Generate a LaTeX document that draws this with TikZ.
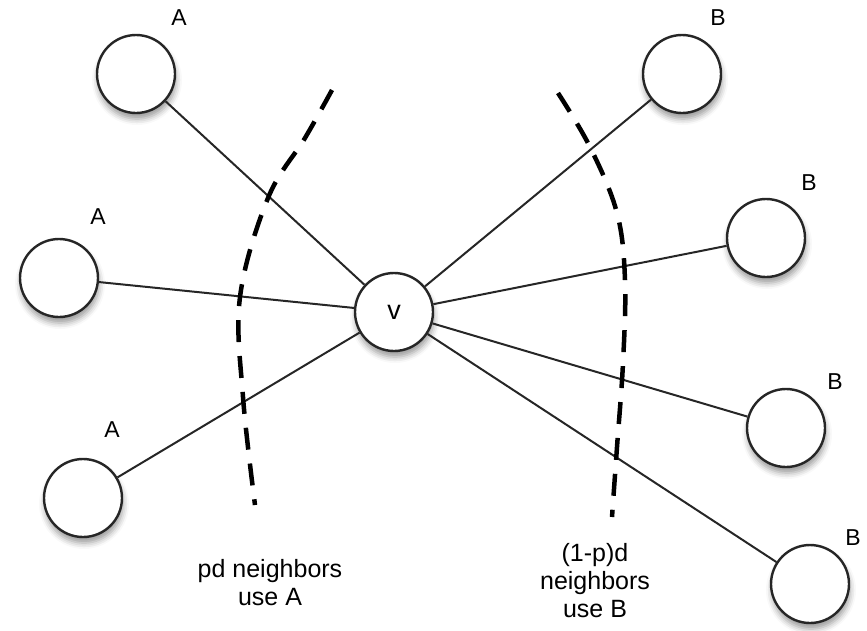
\documentclass[tikz,border=0pt]{standalone}
\usepackage{fontspec}
\setmainfont{Liberation Sans}
\usetikzlibrary{shadows.blur}
\begin{document}
\begin{tikzpicture}[x=1pt,y=-1pt,
  vert/.style={circle,draw=black!85,line width=2.4pt,fill=white,minimum size=78pt,inner sep=0pt,
    blur shadow={shadow xshift=1pt,shadow yshift=-6pt,shadow blur radius=6pt,shadow opacity=40}},
  lbl/.style={font=\fontsize{23}{28}\selectfont},
  vlbl/.style={font=\fontsize{27}{30}\selectfont},
  txt/.style={font=\fontsize{25}{28}\selectfont,align=center},
  edge/.style={line width=2pt,black!85},
  divider/.style={line width=4.5pt,dash pattern=on 22pt off 14pt}]
\useasboundingbox (0,0) rectangle (867,630);
% nodes
\node[vert] (a1) at (136,74) {};
\node[vert] (a2) at (59,278) {};
\node[vert] (a3) at (83,498) {};
\node[vert] (b1) at (682,74) {};
\node[vert] (b2) at (766,238) {};
\node[vert] (b3) at (786,428) {};
\node[vert] (b4) at (810,584) {};
\node[vert,vlbl] (v) at (394,312) {v};
% edges
\foreach \n in {a1,a2,a3,b1,b2,b3,b4}
  \draw[edge] (v) -- (\n);
% labels
\node[lbl] (la1) at (179,18) {A};
\node[lbl] (la2) at (98,217) {A};
\node[lbl] (la3) at (112,430) {A};
\node[lbl] (lb1) at (718,18) {B};
\node[lbl] (lb2) at (809,183) {B};
\node[lbl] (lb3) at (835,382) {B};
\node[lbl] (lb4) at (853,538) {B};
% dividers
\draw[divider] plot[smooth,tension=0.6] coordinates {(332,90) (305,138) (268,198) (240,297) (243,397) (255,505)};
\draw[divider] plot[smooth,tension=0.6] coordinates {(558,93) (590,147) (617,213) (625,280) (623,363) (617,447) (612,517)};
% texts
\node[txt] (tl) at (270,583) {pd neighbors\\use A};
\node[txt] (tr) at (595,581) {(1-p)d\\neighbors\\use B};
\end{tikzpicture}
\end{document}
